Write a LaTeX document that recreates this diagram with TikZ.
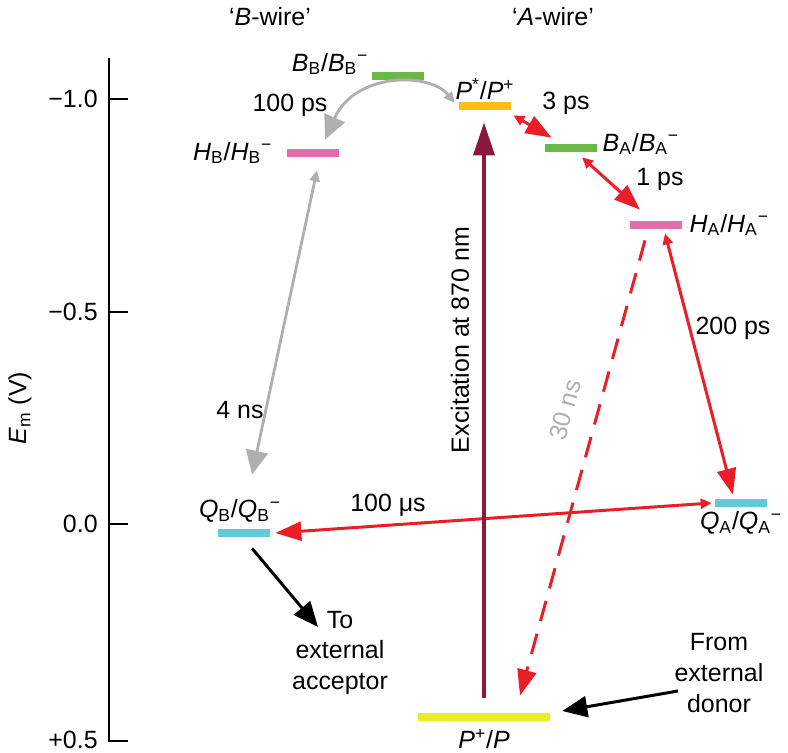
\documentclass[tikz,border=0pt]{standalone}
\usepackage{fontspec}
\setmainfont{Liberation Sans}
\usetikzlibrary{arrows.meta,positioning,calc}
\definecolor{rcgreen}{RGB}{105,185,70}
\definecolor{rcorange}{RGB}{250,190,25}
\definecolor{rcpink}{RGB}{225,110,170}
\definecolor{rccyan}{RGB}{100,200,215}
\definecolor{rcyellow}{RGB}{235,235,35}
\definecolor{rcred}{RGB}{235,30,40}
\definecolor{rcgrey}{RGB}{175,175,175}
\definecolor{rcmaroon}{RGB}{140,25,60}
\newcommand{\redox}[2]{\textit{#1}\textsubscript{#2}/\textit{#1}\textsubscript{#2}\textsuperscript{−}}

\begin{document}
\begin{tikzpicture}[x=0.02cm, y=-0.02cm,
    every node/.style={font=\fontsize{14.2pt}{17.6pt}\selectfont, inner sep=0pt},
    lvl/.style={rectangle, minimum width=1.04cm, minimum height=0.16cm,
                inner sep=0pt},
    axisline/.style={line width=1.6pt, black},
    redarr/.style={rcred, line width=1.7pt,
                {Triangle[length=0.22cm, width=0.2cm]}-{Triangle[length=0.52cm, width=0.38cm]}},
    reddash/.style={rcred, line width=1.7pt, dash pattern=on 0.42cm off 0.26cm,
                -{Triangle[length=0.52cm, width=0.38cm]}},
    greyarr/.style={rcgrey, line width=1.6pt,
                {Triangle[length=0.22cm, width=0.2cm]}-{Triangle[length=0.48cm, width=0.44cm]}},
    excarr/.style={rcmaroon, line width=1.9pt, -{Triangle[length=0.66cm, width=0.42cm]}},
    blkarr/.style={black, line width=1.7pt, -{Triangle[length=0.5cm, width=0.42cm]}},
  ]
  \useasboundingbox (0,0) rectangle (788,753);

  % Os potencijala
  \draw[axisline] (109,58) -- (109,741) -- (128,741);
  \foreach \yy/\lab in {99/−1.0, 312/−0.5, 524/0.0} {
    \draw[axisline] (109,\yy) -- (128,\yy);
    \node[anchor=east] (tick\yy) at (98,\yy) {\lab};
  }
  \node[anchor=east] (tickp) at (98,740) {+0.5};
  \node[rotate=90] (ylab) at (20,408) {\textit{E}\textsubscript{m} (V)};

  % Nivoi
  \node[lvl, fill=rcgreen] (BB) at (398,76) {};
  \node[lvl, fill=rcorange] (Pst) at (485,106) {};
  \node[lvl, fill=rcpink] (HB) at (313,153) {};
  \node[lvl, fill=rcgreen] (BA) at (571,148) {};
  \node[lvl, fill=rcpink] (HA) at (656,225) {};
  \node[lvl, fill=rccyan] (QA) at (741,503) {};
  \node[lvl, fill=rccyan] (QB) at (244,533) {};
  \node[lvl, fill=rcyellow, minimum width=2.64cm] (PP) at (484,717) {};

  % Oznake nivoa
  \node[anchor=east] (BBlab) at ($(BB.west)+(-3,-12)$) {\redox{B}{B}};
  \node[above=0.3mm of Pst] (Pstlab) {\textit{P}\textsuperscript{*}/\textit{P}\textsuperscript{+}};
  \node[left=0.28cm of HB] (HBlab) {\redox{H}{B}};
  \node[right=0.1cm of BA, yshift=0.08cm] (BAlab) {\redox{B}{A}};
  \node[right=0.14cm of HA] (HAlab) {\redox{H}{A}};
  \node[below=0.8mm of QA] (QAlab) {\redox{Q}{A}};
  \node[above=1.2mm of QB, xshift=-0.08cm] (QBlab) {\redox{Q}{B}};
  \node[below=1.5mm of PP] (PPlab) {\textit{P}\textsuperscript{+}/\textit{P}};

  % Tekstovi
  \node (Bwire) at (270,17) {‘\textit{B}-wire’};
  \node (Awire) at (553,17) {‘\textit{A}-wire’};
  \node (t100ps) at (290,105) {100 ps};
  \node (t3ps) at (566,103) {3 ps};
  \node (t1ps) at (660,180) {1 ps};
  \node (t200ps) at (733,328) {200 ps};
  \node (t4ns) at (240,410) {4 ns};
  \node (t100us) at (388,505) {100 μs};
  \node[rotate=90] (texc) at (460,340) {Excitation at 870 nm};
  \node[rotate=74.6, text=rcgrey] (t30ns) at (565,410) {30 ns};
  \node[align=center] (acc) at (340,653) {To\\external\\acceptor};
  \node[align=center] (don) at (719,673) {From\\external\\donor};

  % Prijelazi
  \draw[greyarr] ($(Pst.west)+(-4,-3)$) .. controls (430,72) and (355,72) .. ($(HB.north)+(12,-9)$);
  \draw[redarr] ($(Pst.south east)+(2,5)$) -- ($(BA.north west)+(7,-6)$);
  \draw[redarr] ($(BA.south)+(11,5)$) -- ($(HA.north)+(-16,-11)$);
  \draw[redarr] ($(HA.south)+(9,4)$) -- ($(QA.north)+(-8,-4)$);
  \draw[reddash] ($(HA.south)+(-11,11)$) -- ($(PP.north)+(36,-17)$);
  \draw[redarr] ($(QA.west)+(-3,0)$) -- ($(QB.east)+(5,0)$);
  \draw[greyarr] ($(HB.south)+(4,13)$) -- ($(QB.north)+(8,-54)$);
  \draw[excarr] ($(PP.north)+(0,-15)$) -- ($(Pst.south)+(-1,12)$);

  % Vanjski donor i akceptor
  \draw[blkarr] ($(QB.south)+(8,11)$) -- ($(acc.center)+(-22,-26)$);
  \draw[blkarr] ($(don.center)+(-41,18)$) -- ($(PP.east)+(12,-6)$);
\end{tikzpicture}
\end{document}
